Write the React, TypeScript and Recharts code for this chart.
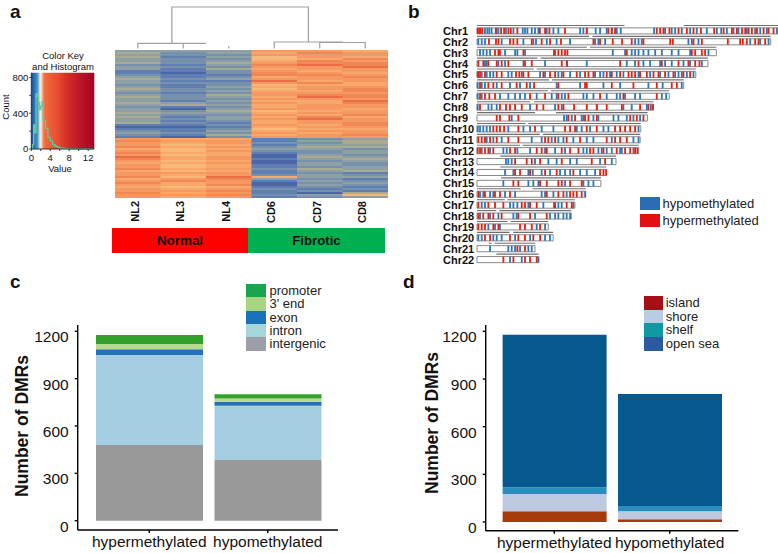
import React from "react"
import {
  Bar, BarChart, ComposedChart, Cell, Line, ReferenceArea, ReferenceLine,
  Scatter, ScatterChart, XAxis, YAxis,
} from "recharts"

const FONT = '"Liberation Sans", Arial, sans-serif'

// panel a: heatmap levels, one list per sample, rows top to bottom
const samples = ["NL2", "NL3", "NL4", "CD6", "CD7", "CD8"]
const heatNL2 = [3,4,3,4,3,3,4,2,3,3,1,1,2,3,4,3,3,2,3,4,3,2,3,4,3,3,4,3,2,3,3,4,3,4,3,3,4,1,0,1,2,3,2,1,7,8,7,7,8,6,7,8,7,9,8,7,6,7,7,8,6,7,7,8,6,7,8,7,6,7,7,8,7,7]
const heatNL3 = [3,2,2,1,2,2,2,1,2,1,1,0,1,1,2,1,2,1,1,2,2,1,2,2,2,1,3,4,1,0,2,3,2,1,2,1,2,1,0,1,1,2,1,0,6,7,6,5,6,5,5,6,5,6,6,5,6,5,5,6,5,7,6,5,7,8,6,6,5,6,7,6,7,6]
const heatNL4 = [3,3,2,3,2,3,4,3,2,4,2,2,1,2,3,1,2,2,3,2,3,2,4,3,2,3,2,3,2,3,4,3,2,3,3,2,1,2,1,2,3,2,4,2,6,7,7,6,7,6,7,6,6,7,7,6,7,6,6,7,6,7,7,9,8,7,7,8,6,7,8,7,8,7]
const heatCD6 = [7,6,7,5,5,6,7,8,7,6,7,8,8,6,7,9,7,5,6,5,6,7,7,6,7,6,7,6,6,7,5,6,7,6,7,6,6,7,6,5,6,7,6,7,1,1,2,1,2,3,2,1,0,0,1,0,0,1,1,2,1,1,2,6,3,1,0,0,1,2,1,1,2,1]
const heatCD7 = [7,8,7,7,6,8,8,9,7,7,6,7,8,7,7,6,8,6,7,7,6,7,8,9,7,6,6,7,7,7,6,7,6,8,9,7,7,6,7,6,7,6,7,7,2,3,2,3,4,3,2,2,3,4,3,2,3,3,2,4,3,2,3,3,2,3,2,3,2,1,2,0,3,2]
const heatCD8 = [6,7,7,6,8,7,8,8,9,7,7,6,7,8,7,7,6,6,7,8,8,7,8,8,7,9,8,7,7,6,7,7,8,6,7,7,8,8,7,6,7,7,8,7,3,4,4,3,4,2,3,3,2,3,4,3,2,2,3,3,4,1,2,3,1,2,3,2,1,2,1,4,5,3]
const heatColumns = [heatNL2, heatNL3, heatNL4, heatCD6, heatCD7, heatCD8]
const heatColors = ["#4a66a8", "#5f7fb2", "#7790ac", "#8f9fa6", "#a8ab92", "#fab878", "#f8a86a", "#f59861", "#f28756", "#ec6c46"]

const rowKeys = heatNL2.map((_, i) => `r${i}`)
const heatData = samples.map((name) => {
  const row: Record<string, string | number> = { name }
  rowKeys.forEach((k) => { row[k] = 1 })
  return row
})

// dendrogram links, x in column units, y in height above the heatmap
const linkRoot = [{ x: 1.25, y: 6.7 }, { x: 1.25, y: 43 }, { x: 4.25, y: 43 }, { x: 4.25, y: 8 }]
const linkNormal = [{ x: 0.5, y: 1.5 }, { x: 0.5, y: 6.7 }, { x: 2, y: 6.7 }]
const linkNL3 = [{ x: 1.5, y: 1.5 }, { x: 1.5, y: 6.7 }]
const linkNL4 = [{ x: 2.5, y: 1.5 }, { x: 2.5, y: 4 }]
const linkFibrotic = [{ x: 3.5, y: 1.5 }, { x: 3.5, y: 8 }, { x: 5, y: 8 }]
const linkCD78 = [{ x: 4.5, y: 1.5 }, { x: 4.5, y: 7.5 }, { x: 5.5, y: 7.5 }, { x: 5.5, y: 1.5 }]
const dendroLinks = [linkRoot, linkNormal, linkNL3, linkNL4, linkFibrotic, linkCD78]

// colour key histogram
const histValue = [0, 0.25, 0.5, 0.75, 1, 1.25, 1.5, 1.75, 2, 2.25, 2.5, 3, 3.5, 4, 4.5, 5, 5.5, 6, 7, 8, 10, 13]
const histCount = [0, 50, 270, 180, 620, 590, 520, 440, 480, 530, 320, 230, 130, 90, 50, 30, 20, 10, 5, 2, 0, 0]
const histData = histValue.map((value, i) => ({ value, count: histCount[i] }))
const keyStops = [
  [0, "#27408b"], [3, "#2166ac"], [9.5, "#4393c3"], [12, "#92c5de"], [14, "#f0f0f0"], [16.5, "#f9d2b0"],
  [19, "#f08a5a"], [22, "#ee6a3c"], [40, "#e8512f"], [56, "#d73027"], [77, "#bd1728"], [100, "#a50026"],
]

// panel b: chromosomes in Mb
const chrLength = [249, 243, 198, 191, 181, 171, 159, 146, 141, 135.5, 135, 133.8, 115, 107, 102.5, 90, 81, 78, 59, 63, 48, 51]
const chrArms = [
  [[0, 122], [171, 249]], [[0, 92.7], [95.5, 243]], [[0, 90.8], [93.5, 198]], [[0, 50], [52.7, 191]],
  [[0, 47], [49.4, 181]], [[0, 59.6], [62, 171]], [[0, 58.5], [61, 159]], [[0, 44], [47, 146]],
  [[0, 48], [65.4, 141]], [[0, 40], [42.5, 135.5]], [[0, 52], [54.6, 135]], [[0, 35.6], [37.8, 133.8]],
  [[19.3, 115]], [[19.3, 107]], [[20, 102.5]], [[0, 36], [46, 90]],
  [[0, 23], [25, 81]], [[0, 16], [18.5, 78]], [[0, 25], [28, 59]], [[0, 27], [30, 63]],
  [[9.7, 12], [14.6, 48]], [[16, 51]],
]
const hyperByChr = [
  [0.6,1.7,3,4.4,15.5,19.9,22.4,26,28,33.4,52,56.3,59.9,72.8,90.8,108.7,111.5,114.2,148.7,151.5,154.2,159.2,166.7,173.6,179.1,185.2,196.2,204,210.9,215,219.2,221.9,224.7,227.4,231.6,237.1,241.2,245.3],
  [9.9,15.7,17.7,27.3,30.1,33.4,45.3,53.5,60.4,69.5,96.3,101.8,112.3,120,128,137.7,159.8,162,179.1,186,207.5,217.7,219.9,223.2,230.1,232.9,238.4],
  [14.9,17.7,19,38.4,63.7,67.3,70.1,72.8,74.8,123.9,177.7,180.5,186,188.7],
  [1.1,5.2,9.4,16.3,20.4,25.9,39.7,45.3,70.1,74.5,118.4,133.6,152.9,166.7,174.9,180.5,184],
  [1.1,2.5,6.6,16.3,20.4,32.3,35,38.4,42.5,54.9,60.4,64.6,71.5,82.5,89.4,92.2,96.3,107.3,111.5,118.4,125.3,128,130.8,134.9,140.5,146,150.1,155.6,162.5,170.8,176.3],
  [2.5,9.4,13.5,20.4,32.8,41.1,47.2,67.3,89.4,90.8,111.5,129.4,148.7,161.1,165.3],
  [2.5,6.6,10.2,14.9,43.9,56.3,67.3,75.6,101.8,121.1,148.7],
  [2.5,19,24,27.3,31.5,37,49.4,54.9,67.3,71.5,80.3,90.8,99.1,107.3,119.8,134.9,141.8,145.4],
  [16.3,19,26.8,34.2,75.6,81.1,89.4,92.2,99.1,126.7,132.2,137.7],
  [13.5,16.3,19,22.4,34.2,48,72.8,77,81.1,90.8,99.1,114.2,118.4,122.5,126.7,130.8],
  [1.1,3.9,6.6,10.8,16.3,25.9,34.2,56.3,59,64.6,74.2,85.3,107.3,114.2,118.4,123.9],
  [0.6,2.5,6.6,9.4,13.5,27.3,31.5,49.4,53.5,57.7,70.1,77,83.9,93.5,96.3,104.6,115.6,122.5,126.7,130.8,132.7],
  [31.5,41.1,45.3,52.2,70.1,94.9,106],
  [31.5,35.6,43.9,56.3,65.9,79.7,101.8,104.6,106.8],
  [30.1,34.2,52.2,57.7,67.3,70.1,77,86.6],
  [1.1,6.6,14.9,19,27.3,57.7,67.3,71.5,77,79.7,82.5,86.6],
  [1.1,9.4,14.9,21.8,37,39.7,43.9,49.4,64.6,74.2,78.4],
  [1.1,5.2,9.4,13.5,20.4,34.2,43.9,57.7],
  [1.1,3.9,6.6,13.5,17.7,35.6,39.7,45.3,52.2],
  [6.6,10.8,27.3,34.2,39.7,46.6,52.2],
  [33.4,39.7],
  [21.8,30.1,39.7,43.9,49.4],
]
const hypoByChr = [
  [6.6,8.6,10.2,12.1,16.3,17.7,24,30.1,37.8,39.7,41.7,45.3,48,50.8,57.7,63.2,67.3,85.3,88,90.8,98.2,101.8,107.3,111.5,115.6,118.9,146.5,155.6,161.1,163.9,169.4,176.3,181.8,190.1,198.4,202,206.7,212.2,216.3,223.2,230.1,234.3,239.8,248],
  [1.1,3.9,6.6,20.4,38.4,46.6,48.8,57.7,65.9,77,97.7,100.4,106,130.8,133.6,136.3,174.9,177.7,183.2,226,234.3,241.2],
  [2.5,5.2,8,10.8,23.2,31.5,33.4,39.7,64.6,112.3,122.5,128,130.8,133.6,137.7,141.8,147.4,152.9,161.1,166.7,176.3,191.5],
  [6.6,8,17.7,23.2,38.4,56.3,74.2,90.8,123.9,130.8,137.7,143.2,151.5,155.6,161.1,170.8,176.3,186],
  [0.6,3.9,8,10.8,13.5,25.9,28.7,37,52.2,56.3,67.3,70.1,77,85.3,97.7,101.8,104.6,110.1,115.6,121.1,133.6,143.2,151.5,158.4,163.9,166.7,169.4,173.6,179.1],
  [0.6,3.9,6.6,16.3,27.3,35.6,43.9,65.9,85.3,104.6,118.4,141.8,153.6,169.4],
  [0.6,3.9,19,25.9,31.5,35.6,39.7,49.4,61.8,65.9,70.1,72.8,88,90.8,96.3,107.3,115.6,118.4,122.5,130.8,134.9,152.9,156.5],
  [0.6,9.4,12.1,16.3,43.9,64.6,70.1,99.1,121.1,128,140.5,143.8],
  [28.7,72,74.2,78.4,86.6,88,96.3,100.4,112.9,117,123.9,129.4,134.9],
  [0.6,2.5,5.2,8,10.8,25.9,38.4,43.9,53.5,63.2,82.5,86.6,93.5,104.6,108.7,133.6],
  [8,13.5,20.4,45.3,53.5,61.8,67.3,71.5,79.7,90.8,96.3,111.5,129.4,133.6],
  [3.9,10.8,21.8,24.6,33.4,43.9,56.3,64.6,72.8,88,90.8,100.4,103.2,107.3,111.5,118.4,119.8,129.4],
  [24,25.9,28.7,48,59,65.9,77,82.5,101.8,111.5],
  [23.2,30.1,42.5,46.1,53.5,60.4,68.7,72.8,77,85.3,90.8,97.7],
  [21.8,42.5,46.6,50.8,72.8,88,92.2,96.3],
  [2.5,5.2,10.8,13.5,23.2,31.5,53.5,56.3,63.2,74.2,89.4],
  [3.9,6.6,27.3,30.1,33.4,42.5,54.9,63.7,67.3,70.1,79.7],
  [2.5,10.8,17.7,30.1,32.8,48,60.4,64.6,67.3,71.5,74.2,77],
  [9.4,14.9,19,49.4,56.3],
  [1.1,3.9,13.5,16.3,20.4,31.5,43.9,56.3,60.4],
  [10.8,25.9,28.7,31.5,35.6,42.5,45.3],
  [27.3,37,50.8],
]
const chrTicks = chrLength.map((_, i) => i + 1)
const toPoints = (lists: number[][]) =>
  lists.flatMap((positions, i) => positions.map((x) => ({ x, y: i + 1 })))

// panels c and d: DMR counts
const groups = ["hypermethylated", "hypomethylated"]
const yTicks = [0, 300, 600, 900, 1200]
const intergenic = [480, 385]
const intron = [570, 344]
const exon = [36, 25]
const threePrime = [34, 21]
const promoter = [57, 26]
const island = [67, 17]
const shore = [109, 50]
const shelf = [42, 33]
const openSea = [961, 705]

const regionSeries = [
  { name: "intergenic", values: intergenic, fill: "#999999" },
  { name: "intron", values: intron, fill: "#a6cee3" },
  { name: "exon", values: exon, fill: "#2572b8" },
  { name: "3' end", values: threePrime, fill: "#b5dc8e" },
  { name: "promoter", values: promoter, fill: "#33a02c" },
]
const cpgSeries = [
  { name: "island", values: island, fill: "#a63a08" },
  { name: "shore", values: shore, fill: "#bdc9e1" },
  { name: "shelf", values: shelf, fill: "#2b8cbe" },
  { name: "open sea", values: openSea, fill: "#05598f" },
]
const regionKey = [
  ["promoter", "#17a550"], ["3' end", "#a8d582"], ["exon", "#1a72bb"], ["intron", "#a5d6d9"], ["intergenic", "#9e9ea8"],
]
const cpgKey = [
  ["island", "#a50f15"], ["shore", "#b8cce4"], ["shelf", "#0e9aa0"], ["open sea", "#2b5aa0"],
]
const methKey = [["hypomethylated", "#2a6db5"], ["hypermethylated", "#e41010"]]

function Label({ x, y, size, line, bold, children, center, color }: any) {
  return (
    <div style={{
      position: "absolute", left: x, top: y, fontSize: size, fontWeight: bold ? 700 : 400,
      lineHeight: `${line || size}px`, whiteSpace: "nowrap", color: color || "#111",
      transform: center ? "translateX(-50%)" : undefined,
    }}>{children}</div>
  )
}

function ColorList({ x, y, boxW, boxH, items, textX, gap = 0 }: any) {
  return (
    <>
      {items.map(([name, color]: string[], i: number) => (
        <React.Fragment key={name}>
          <div style={{ position: "absolute", left: x, top: y + i * (boxH + gap), width: boxW, height: boxH, background: color }} />
          <div style={{ position: "absolute", left: textX, top: y + i * (boxH + gap), height: boxH, lineHeight: `${boxH}px`, fontSize: 13, color: "#222", whiteSpace: "nowrap" }}>{name}</div>
        </React.Fragment>
      ))}
    </>
  )
}

function SampleTick({ x, y, payload }: any) {
  return (
    <text transform={`translate(${x + 1},${y - 5}) rotate(-90)`} textAnchor="end" fontSize={11} fontWeight={700} fill="#111">
      {payload.value}
    </text>
  )
}

function ChrTick({ y, payload }: any) {
  return (
    <text x={13} y={y + 4} fontSize={11} fontWeight={700} fill="#111">{`Chr${payload.value}`}</text>
  )
}

function CountTick({ x, y, payload }: any) {
  return <text x={x - 4} y={y + 11} textAnchor="end" fontSize={15.5} fill="#111">{payload.value}</text>
}

function GroupTick({ x, y, payload }: any) {
  return <text x={x} y={y + 12} textAnchor="middle" fontSize={15.5} fill="#111">{payload.value}</text>
}

const hyperMark = (p: any) => <rect x={p.cx - 0.9} y={p.cy - 3} width={1.8} height={6} fill="#e8200f" />
const hypoMark = (p: any) => <rect x={p.cx - 0.9} y={p.cy - 3} width={1.8} height={6} fill="#2b78ba" />
const noDot = () => <g />

function StackPanel({ left, width, axisWidth, right, bottom, padBottom, barSize, pad, series }: any) {
  const data = groups.map((group, i) => {
    const row: Record<string, string | number> = { group }
    series.forEach((s: any) => { row[s.name] = s.values[i] })
    return row
  })
  return (
    <div style={{ position: "absolute", left, top: 280 }}>
      <BarChart width={width} height={273} data={data} margin={{ top: 45, left: 0, right, bottom: 0 }} barSize={barSize}>
        <XAxis dataKey="group" height={bottom} tick={<GroupTick />} interval={0} padding={pad} stroke="#000" strokeWidth={1.4} tickSize={3} />
        <YAxis type="number" width={axisWidth} domain={[0, 1240]} ticks={yTicks} padding={{ top: 0, bottom: padBottom }} tick={<CountTick />} interval={0} stroke="#000" strokeWidth={1.4} tickSize={3} />
        {series.map((s: any) => (
          <Bar key={s.name} dataKey={s.name} stackId="dmr" fill={s.fill} isAnimationActive={false} />
        ))}
      </BarChart>
    </div>
  )
}

export default function App() {
  return (
    <div style={{ position: "absolute", left: 0, top: 0, width: 778, height: 553, background: "#fff", overflow: "hidden", fontFamily: FONT }}>
      <Label x={10} y={2} size={19} line={19} bold>a</Label>
      <Label x={408} y={2} size={19} line={19} bold>b</Label>
      <Label x={10} y={272} size={19} line={19} bold>c</Label>
      <Label x={403} y={272} size={19} line={19} bold>d</Label>

      {/* colour key */}
      <Label x={63} y={51} size={9.5} center>Color Key</Label>
      <Label x={63} y={62} size={9.5} center>and Histogram</Label>
      <div style={{ position: "absolute", left: 0, top: 60 }}>
        <ComposedChart width={100} height={120} data={histData} margin={{ top: 12.7, left: 0, right: 5.7, bottom: 11 }}>
          <defs>
            <linearGradient id="keyFill" x1="0" y1="0" x2="1" y2="0">
              {keyStops.map(([o, c]) => <stop key={o} offset={`${o}%`} stopColor={c as string} />)}
            </linearGradient>
          </defs>
          <XAxis dataKey="value" type="number" domain={[0, 13.3]} ticks={[0, 2, 4, 6, 8, 10, 12]} interval={0} height={20} tickSize={2} tickMargin={3}
            tickFormatter={(v) => (v % 4 === 0 ? String(v) : "")} tick={{ fontSize: 9.5, fill: "#111" }} stroke="#333" />
          <YAxis type="number" width={31.3} domain={[0, 853]} ticks={[0, 200, 400, 600, 800]} interval={0} tickSize={2} tickMargin={1}
            tickFormatter={(v) => (v % 400 === 0 ? String(v) : "")} tick={{ fontSize: 9.5, fill: "#111" }} stroke="#333" />
          <ReferenceArea x1={0} x2={13.3} y1={0} y2={853} fill="url(#keyFill)" fillOpacity={1} stroke="none" />
          <Line dataKey="count" type="stepAfter" stroke="#62c8a5" strokeWidth={1.3} dot={false} isAnimationActive={false} />
        </ComposedChart>
      </div>
      <Label x={60} y={164} size={9.5} center>Value</Label>
      <div style={{ position: "absolute", left: 5, top: 107, fontSize: 9.5, color: "#111", transform: "translate(-50%,-50%) rotate(-90deg)" }}>Count</div>

      {/* dendrogram */}
      <div style={{ position: "absolute", left: 115, top: 0 }}>
        <ScatterChart width={273} height={50} margin={{ top: 0, left: 0, right: 0, bottom: 0 }}>
          <XAxis dataKey="x" type="number" domain={[0, 6]} hide />
          <YAxis dataKey="y" type="number" domain={[0, 50]} hide />
          {dendroLinks.map((points, i) => (
            <Scatter key={i} data={points} shape={noDot} line={{ stroke: "#a0a0a0", strokeWidth: 1.2 }} isAnimationActive={false} />
          ))}
        </ScatterChart>
      </div>

      {/* heatmap */}
      <div style={{ position: "absolute", left: 115, top: 50 }}>
        <BarChart width={273} height={178} data={heatData} barCategoryGap={0} margin={{ top: 0, left: 0, right: 0, bottom: 0 }}>
          <XAxis dataKey="name" height={30} tick={<SampleTick />} interval={0} axisLine={false} tickLine={false} />
          <YAxis hide type="number" domain={[0, 74]} reversed />
          {rowKeys.map((key, r) => (
            <Bar key={key} dataKey={key} stackId="rows" isAnimationActive={false}>
              {heatColumns.map((column, c) => <Cell key={c} fill={heatColors[column[r]]} />)}
            </Bar>
          ))}
        </BarChart>
      </div>

      {/* group strip */}
      <div style={{ position: "absolute", left: 112, top: 228, width: 136, height: 24.5, background: "#ff0000", textAlign: "center", lineHeight: "25px", fontSize: 13.4, fontWeight: 700, color: "#111" }}>Normal</div>
      <div style={{ position: "absolute", left: 248, top: 228, width: 137, height: 24.5, background: "#00b050", textAlign: "center", lineHeight: "25px", fontSize: 13.2, fontWeight: 700, color: "#111" }}>Fibrotic</div>

      {/* chromosomes */}
      <div style={{ position: "absolute", left: 430, top: 20.4 }}>
        <ScatterChart width={348} height={250.5} margin={{ top: 0, left: 0, right: 0, bottom: 0 }}>
          <XAxis dataKey="x" type="number" domain={[0, 249]} hide />
          <YAxis dataKey="y" type="number" domain={[0, 23]} reversed width={47} ticks={chrTicks} interval={0} axisLine={false} tickLine={false} tick={<ChrTick />} />
          {chrLength.map((len, i) => (
            <ReferenceArea key={i} x1={0} x2={len} y1={i + 0.72} y2={i + 1.28} fill="#fff" fillOpacity={1} stroke="#8a8a8a" strokeWidth={1} />
          ))}
          {chrArms.flatMap((arms, i) => arms.map(([a, b], j) => (
            <ReferenceLine key={`${i}-${j}`} segment={[{ x: a, y: i + 0.5 }, { x: b, y: i + 0.5 }]} stroke="#707070" strokeWidth={1.1} />
          )))}
          <Scatter data={toPoints(hypoByChr)} shape={hypoMark} isAnimationActive={false} />
          <Scatter data={toPoints(hyperByChr)} shape={hyperMark} isAnimationActive={false} />
        </ScatterChart>
      </div>
      <ColorList x={639.5} y={196.5} boxW={20} boxH={13.7} gap={3.3} textX={662.5} items={methKey} />

      {/* panel c */}
      <StackPanel left={0} width={350} axisWidth={77.7} right={12} bottom={23} padBottom={9.3} barSize={107} pad={{ left: 12.3, right: 11 }} series={regionSeries} />
      <ColorList x={246} y={284} boxW={20} boxH={13.35} textX={269.5} items={regionKey} />
      <div style={{ position: "absolute", left: 22, top: 426, fontSize: 17.5, fontWeight: 700, color: "#111", whiteSpace: "nowrap", transform: "translate(-50%,-50%) rotate(-90deg)" }}>Number of DMRs</div>

      {/* panel d */}
      <StackPanel left={400} width={350} axisWidth={85.7} right={11.7} bottom={22.3} padBottom={8.7} barSize={104} pad={{ left: 10.9, right: 10.9 }} series={cpgSeries} />
      <ColorList x={644} y={296} boxW={19.3} boxH={13.7} textX={665.7} items={cpgKey} />
      <div style={{ position: "absolute", left: 432, top: 423, fontSize: 17.5, fontWeight: 700, color: "#111", whiteSpace: "nowrap", transform: "translate(-50%,-50%) rotate(-90deg)" }}>Number of DMRs</div>
    </div>
  )
}
